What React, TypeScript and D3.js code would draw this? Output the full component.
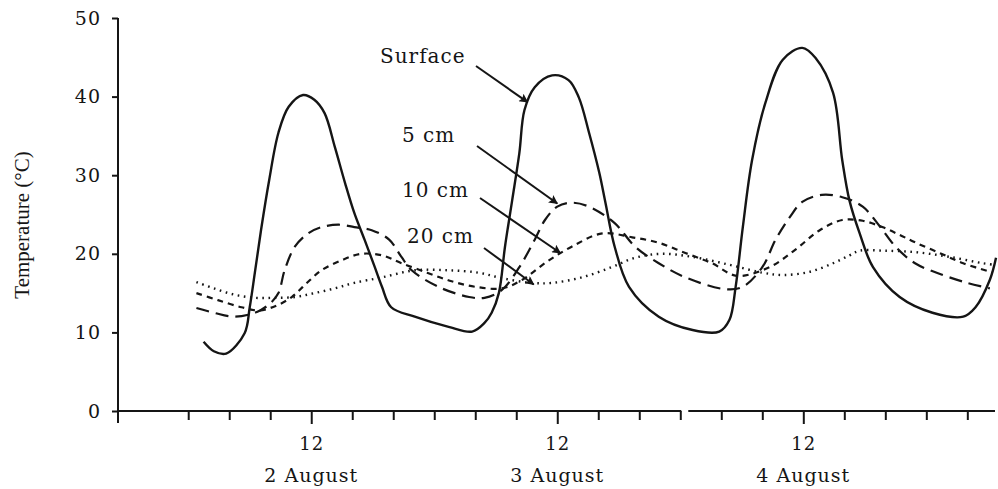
import { useEffect, useRef } from "react";
import * as d3 from "d3";

// hours counted from 2 August 00:00, temperature in °C
const yTicks = [0, 10, 20, 30, 40, 50];
const xTickHours = [0, 4, 8, 12, 16, 20, 24, 28, 32, 36, 40, 44, 48, 52, 56, 60, 64, 68, 72, 76];
const noonHours = [12, 36, 60];
const dayLabels = ["2 August", "3 August", "4 August"];

const surface: [number, number][] = [
  [1.5, 8.8], [2.5, 7.6], [3.7, 7.3], [5.5, 9.9], [6.0, 13.2], [6.5, 17.6], [7.1, 23.0],
  [7.9, 29.4], [8.8, 35.4], [9.8, 38.7], [11.2, 40.2], [12.3, 39.6], [13.3, 37.9],
  [14.3, 33.6], [15.3, 29.0], [16.2, 25.2], [17.2, 21.8], [18.2, 18.3], [18.9, 15.8],
  [19.8, 13.2], [22.1, 12.0], [25.4, 10.7], [27.7, 10.1], [28.9, 11.2], [29.6, 12.5],
  [30.3, 15.0], [30.9, 20.9], [31.6, 26.8], [32.3, 32.8], [32.8, 38.3], [33.8, 41.2],
  [35.5, 42.7], [37.1, 42.1], [38.1, 39.9], [39.1, 35.4], [40.1, 30.3], [40.7, 26.5],
  [41.6, 20.9], [43.0, 15.8], [45.9, 12.0], [49.2, 10.3], [51.8, 10.1], [52.8, 11.6],
  [53.4, 15.8], [54.1, 23.4], [55.0, 31.9], [56.3, 39.2], [58.0, 44.7], [59.9, 46.2],
  [61.2, 44.9], [62.9, 40.5], [63.8, 31.9], [64.5, 26.8], [65.5, 22.6], [66.8, 18.3],
  [69.4, 14.5], [72.6, 12.5], [75.6, 12.0], [76.8, 13.2], [78.2, 16.7], [78.8, 19.5],
];

const cm5: [number, number][] = [
  [0.8, 13.1], [2.5, 12.5], [4.5, 12.0], [6.7, 12.6], [8.0, 13.7], [8.8, 15.0], [9.4, 17.9],
  [10.4, 20.9], [11.7, 22.6], [13.0, 23.4], [14.7, 23.7], [16.2, 23.4], [17.9, 23.0],
  [19.6, 21.8], [20.8, 19.6], [21.8, 17.9], [24.4, 15.8], [27.4, 14.5], [28.9, 14.4],
  [30.6, 15.4], [32.3, 18.3], [33.8, 21.8], [34.8, 24.3], [36.0, 26.0], [37.4, 26.5],
  [39.1, 26.0], [41.6, 23.9], [43.6, 20.9], [45.9, 18.8], [48.5, 17.0], [52.4, 15.5],
  [54.1, 15.8], [56.0, 18.3], [57.3, 21.8], [58.7, 24.7], [59.9, 26.6], [61.8, 27.5],
  [63.8, 27.2], [65.8, 26.0], [67.4, 23.6], [69.0, 20.9], [70.9, 18.8], [73.4, 17.4],
  [76.0, 16.3], [78.2, 15.6],
];

const cm10: [number, number][] = [
  [0.8, 15.0], [2.9, 14.1], [5.2, 13.2], [6.9, 12.8], [8.6, 13.4], [10.1, 14.5], [11.5, 16.2],
  [13.0, 17.9], [15.0, 19.2], [16.9, 20.0], [18.9, 19.8], [20.8, 18.8], [23.3, 17.6],
  [25.7, 16.5], [28.0, 15.8], [30.6, 15.6], [32.6, 16.7], [35.0, 19.0], [37.4, 20.9],
  [40.4, 22.6], [43.3, 22.1], [45.9, 21.4], [48.5, 20.1], [51.1, 18.8], [53.5, 17.2],
  [56.7, 18.3], [59.2, 20.5], [61.6, 23.0], [63.8, 24.3], [65.8, 24.2], [67.7, 23.4],
  [69.4, 22.4], [71.0, 21.4], [73.3, 20.1], [75.6, 18.8], [78.5, 17.6],
];

const cm20: [number, number][] = [
  [0.8, 16.4], [2.5, 15.6], [4.5, 14.8], [6.5, 14.4], [8.4, 14.4], [10.4, 14.5], [12.3, 15.0],
  [14.3, 15.6], [16.2, 16.3], [18.9, 17.0], [22.1, 17.9], [25.4, 17.9], [28.3, 17.6],
  [30.6, 16.9], [33.5, 16.3], [35.5, 16.3], [38.4, 17.0], [41.3, 18.3], [43.6, 19.5],
  [46.2, 20.0], [49.2, 19.6], [52.8, 18.6], [56.0, 17.6], [58.0, 17.3], [60.6, 17.7],
  [62.9, 18.8], [64.5, 19.8], [65.5, 20.4], [67.7, 20.4], [71.0, 20.2], [74.3, 19.6],
  [77.5, 18.8], [78.6, 18.6],
];

const seriesNames = ["Surface", "5 cm", "10 cm", "20 cm"];
const seriesData = [surface, cm5, cm10, cm20];
// where each label's arrow points, in data space
const arrowTargets: [number, number][] = [[33.1, 39.3], [36.0, 26.4], [36.3, 20.1], [33.7, 16.1]];

const font = "'DejaVu Serif', serif";

export default function App() {
  const ref = useRef<SVGSVGElement>(null);

  useEffect(() => {
    const svg = d3.select(ref.current);
    svg.selectAll("*").remove();

    const x = d3.scaleLinear().domain([-6.85, 78.7]).range([118, 995]);
    const y = d3.scaleLinear().domain([0, 50]).range([411, 18]);
    const ink = "#151515";

    svg.append("defs").append("marker")
      .attr("id", "arrowHead")
      .attr("viewBox", "0 0 10 10")
      .attr("refX", 9)
      .attr("refY", 5)
      .attr("markerWidth", 12)
      .attr("markerHeight", 9)
      .attr("markerUnits", "userSpaceOnUse")
      .attr("orient", "auto")
      .append("path")
      .attr("d", "M0,0 L10,5 L0,10 L2,5 z")
      .attr("fill", ink);

    // ---------------- y axis
    const yAxis = svg.append("g")
      .attr("transform", "translate(118,0)")
      .call(d3.axisLeft(y).tickValues(yTicks).tickSize(6).tickPadding(11));
    yAxis.select(".domain").remove();
    yAxis.selectAll("line").attr("stroke", ink).attr("stroke-width", 2);
    yAxis.selectAll("text")
      .attr("font-family", font)
      .attr("font-size", 19)
      .attr("letter-spacing", 1)
      .attr("fill", ink);
    svg.append("line")
      .attr("x1", 118).attr("x2", 118)
      .attr("y1", y(50)).attr("y2", 423)
      .attr("stroke", ink).attr("stroke-width", 2);

    svg.append("text")
      .attr("transform", "translate(29,225) rotate(-90)")
      .attr("text-anchor", "middle")
      .attr("font-family", "'Liberation Serif', serif")
      .attr("font-size", 21)
      .attr("fill", ink)
      .text("Temperature (°C)");

    // ---------------- x axis
    const xAxis = svg.append("g")
      .attr("transform", `translate(0,${y(0)})`)
      .call(d3.axisBottom(x)
        .tickValues(xTickHours)
        .tickSize(8)
        .tickPadding(18)
        .tickFormat(d => (+d % 24 === 12 ? "12" : "")));
    xAxis.select(".domain").remove();
    xAxis.selectAll("line")
      .attr("stroke", ink)
      .attr("stroke-width", 2)
      .attr("y2", (d: any) => (d % 24 === 12 ? 13 : 9));
    xAxis.selectAll("text")
      .attr("font-family", font)
      .attr("font-size", 18)
      .attr("letter-spacing", 1)
      .attr("fill", ink);

    const gap = x(48);
    svg.append("path")
      .attr("d", `M118,${y(0)}H${gap + 1}M${gap + 8},${y(0)}H995`)
      .attr("stroke", ink)
      .attr("stroke-width", 2);

    svg.append("g")
      .selectAll("text")
      .data(dayLabels)
      .join("text")
      .attr("x", (_, i) => x(noonHours[i]))
      .attr("y", 482)
      .attr("text-anchor", "middle")
      .attr("font-family", font)
      .attr("font-size", 19)
      .attr("letter-spacing", 1)
      .attr("fill", ink)
      .text(d => d);

    // ---------------- temperature curves
    const line = d3.line<[number, number]>()
      .x(d => x(d[0]))
      .y(d => y(d[1]))
      .curve(d3.curveCatmullRom.alpha(0.5));

    const dashes = [null, "13,7", "6,5", "1.6,4.6"];
    const widths = [2.4, 2.2, 2.2, 2.4];

    svg.append("g")
      .selectAll("path")
      .data(seriesData)
      .join("path")
      .attr("d", d => line(d))
      .attr("fill", "none")
      .attr("stroke", ink)
      .attr("stroke-width", (_, i) => widths[i])
      .attr("stroke-dasharray", (_, i) => dashes[i])
      .attr("stroke-linejoin", "round");

    // ---------------- labels with arrows
    const labelPos = [
      { tx: 380, ty: 63, sx: 476, sy: 66 },
      { tx: 402, ty: 142, sx: 477, sy: 146 },
      { tx: 402, ty: 197, sx: 480, sy: 198 },
      { tx: 407, ty: 243, sx: 484, sy: 248 },
    ];

    const ann = svg.append("g")
      .selectAll("g")
      .data(seriesNames)
      .join("g");

    ann.append("text")
      .attr("x", (_, i) => labelPos[i].tx)
      .attr("y", (_, i) => labelPos[i].ty)
      .attr("font-family", font)
      .attr("font-size", 20)
      .attr("letter-spacing", 1)
      .attr("fill", ink)
      .text(d => d);

    ann.append("line")
      .attr("x1", (_, i) => labelPos[i].sx)
      .attr("y1", (_, i) => labelPos[i].sy)
      .attr("x2", (_, i) => x(arrowTargets[i][0]))
      .attr("y2", (_, i) => y(arrowTargets[i][1]))
      .attr("stroke", ink)
      .attr("stroke-width", 2)
      .attr("marker-end", "url(#arrowHead)");
  }, []);

  return (
    <svg
      ref={ref}
      width={998}
      height={489}
      style={{ position: "absolute", left: 0, top: 0, background: "#fff" }}
    />
  );
}
